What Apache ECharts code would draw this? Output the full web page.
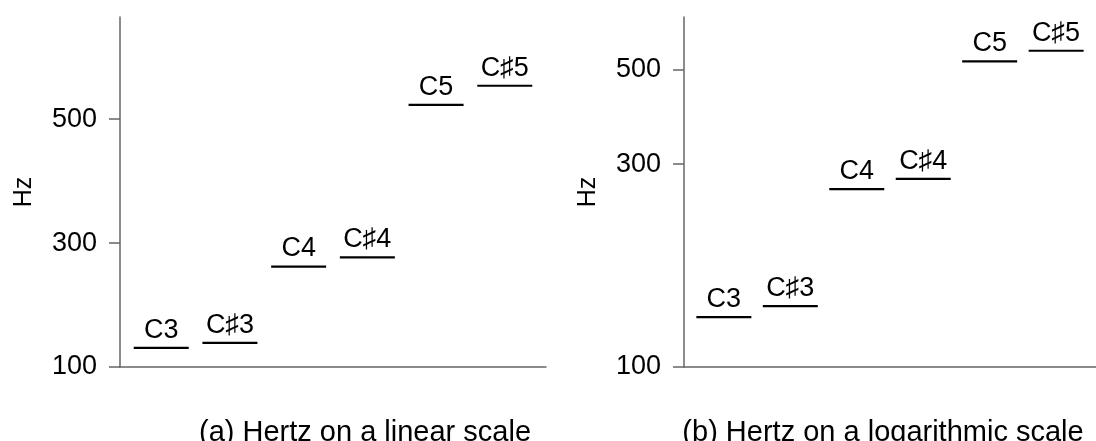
<!DOCTYPE html>
<html>
<head>
<meta charset="utf-8">
<script src="https://cdn.jsdelivr.net/npm/echarts@6/dist/echarts.min.js"></script>
<style>
  html, body { margin: 0; padding: 0; background: #fff; }
  #chart { width: 1096px; height: 441px; }
</style>
</head>
<body>
<div id="chart"></div>
<script>
// notes and their frequencies (Hz)
var noteNames = ['C3', 'C\u266F3', 'C4', 'C\u266F4', 'C5', 'C\u266F5']
var noteHz = [131, 139, 262, 277, 523, 554]
var notePos = [0, 1, 2, 3, 4, 5]
var hzTicks = [100, 300, 500]
var panelTitles = ['(a) Hertz on a linear scale', '(b) Hertz on a logarithmic scale']

var font = '"Liberation Sans", Arial, Helvetica, sans-serif'
var axisGray = '#666'

var points = notePos.map(function (p, i) { return [p, noteHz[i]] })

function yAxisFor (type) {
    var ax = {
        type: type,
        gridIndex: type === 'log' ? 1 : 0,
        min: 100,
        max: 665,
        name: 'Hz',
        nameLocation: 'middle',
        nameGap: 83,
        nameTextStyle: { fontSize: 25, color: '#000', fontFamily: font },
        axisLine: { show: true, onZero: false, lineStyle: { color: axisGray, width: 1.5 } },
        axisTick: { show: true, length: 11, lineStyle: { color: axisGray, width: 1.5 }, customValues: hzTicks },
        axisLabel: { fontSize: 27, color: '#000', fontFamily: font, margin: 23, customValues: hzTicks },
        splitLine: { show: false }
    }
    if (type === 'log') ax.logBase = 10
    return ax
}

function xAxisFor (idx) {
    return {
        type: 'value',
        gridIndex: idx,
        min: -0.6,
        max: 5.6,
        axisLine: { show: true, onZero: false, lineStyle: { color: axisGray, width: 1.5 } },
        axisTick: { show: false },
        axisLabel: { show: false },
        splitLine: { show: false }
    }
}

function notesSeries (idx) {
    return {
        type: 'scatter',
        xAxisIndex: idx,
        yAxisIndex: idx,
        data: points,
        symbol: 'rect',
        symbolSize: [55, 2.2],
        itemStyle: { color: '#000', opacity: 1 },
        label: {
            show: true,
            position: 'top',
            distance: 3,
            fontSize: 27,
            color: '#000',
            fontFamily: font,
            formatter: function (p) { return noteNames[p.dataIndex] }
        },
        silent: true
    }
}

var myChart = echarts.init(document.getElementById('chart'))
var option = {
    animation: false,
    backgroundColor: '#fff',
    title: [
        { text: panelTitles[0], left: 360, top: 413, textAlign: 'center',
          textStyle: { fontSize: 29, fontWeight: 'normal', color: '#000', fontFamily: font } },
        { text: panelTitles[1], left: 878, top: 413, textAlign: 'center',
          textStyle: { fontSize: 29, fontWeight: 'normal', color: '#000', fontFamily: font } }
    ],
    grid: [
        { left: 120, top: 17, width: 426, height: 350 },
        { left: 684, top: 17, width: 426, height: 350 }
    ],
    xAxis: [xAxisFor(0), xAxisFor(1)],
    yAxis: [yAxisFor('value'), yAxisFor('log')],
    series: [notesSeries(0), notesSeries(1)]
}
myChart.setOption(option)
</script>
</body>
</html>
